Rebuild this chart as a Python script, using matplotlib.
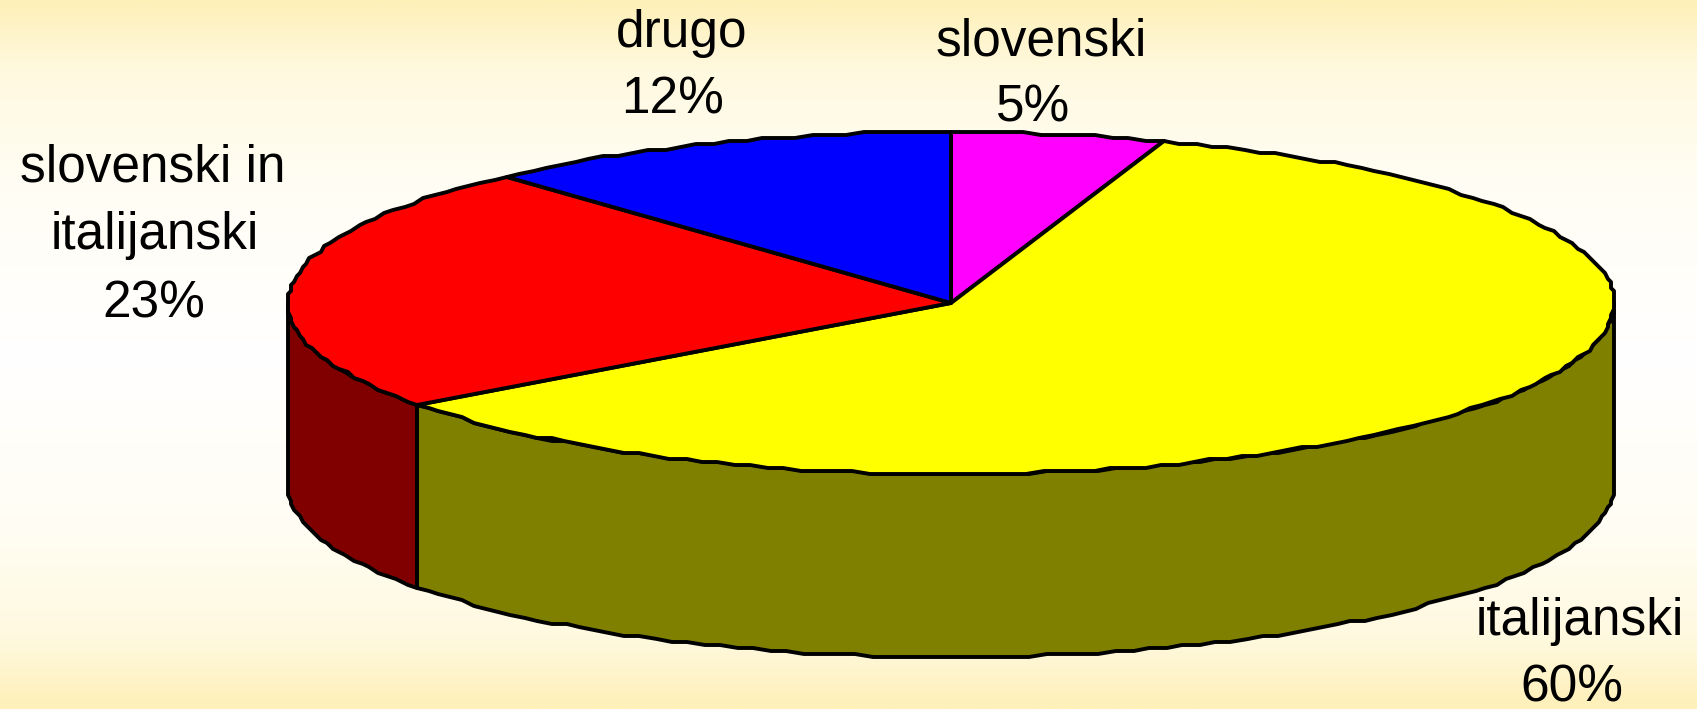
import numpy as np
import matplotlib
matplotlib.use("Agg")
import matplotlib.pyplot as plt
from matplotlib.patches import Polygon
from matplotlib.colors import LinearSegmentedColormap

# Data (clockwise from 12 o'clock)
categories = ["slovenski", "italijanski", "slovenski in\nitalijanski", "drugo"]
shares = [5.2, 59.7, 23.4, 11.7]
top_colors = ["#FF00FF", "#FFFF00", "#FF0000", "#0000FF"]
side_colors = ["#800080", "#808000", "#800000", "#000080"]
# (x centre, baseline y) of each label line, in pixels
name_px = [[(1041, 55)], [(1580, 635)], [(153, 181), (155, 249)], [(682, 47)]]
pct_px = [(1033, 122), (1572, 702), (154, 318), (673, 113)]

W, H = 1697, 709
CX, CY, RX, RY, DEPTH = 951, 303, 663, 171, 183
LW = 2.8
STEP = 3.0
FS = 37

plt.rcParams["font.family"] = ["Liberation Sans", "DejaVu Sans"]
fig = plt.figure(figsize=(W / 100, H / 100), dpi=100)
ax = fig.add_axes([0, 0, 1, 1])
ax.set_xlim(0, W)
ax.set_ylim(H, 0)
ax.axis("off")

cmap = LinearSegmentedColormap.from_list(
    "bg", [(0, "#FFFFFF"), (0.5, "#FFFDF3"), (0.8, "#FFF9E0"), (1, "#FEF0B8")])
grad = np.abs(np.linspace(-1, 1, 256))[:, None]
ax.imshow(grad, extent=(0, W, H, 0), aspect="auto", cmap=cmap, vmin=0, vmax=1, zorder=0)


def rim(a0, a1, dy=0.0):
    n = max(2, int(abs(a1 - a0) / 1.5) + 1)
    t = np.radians(np.linspace(a0, a1, n))
    x = CX + RX * np.sin(t)
    y = CY - RY * np.cos(t)
    x = np.round(x / STEP) * STEP
    y = np.round(y / STEP) * STEP
    return np.column_stack([x, y + dy])


edges = np.concatenate([[0], np.cumsum(shares)]) * 3.6

# walls on the front half
for i, (a0, a1) in enumerate(zip(edges[:-1], edges[1:])):
    lo, hi = max(a0, 90), min(a1, 270)
    if lo < hi:
        top = rim(lo, hi)
        bot = rim(lo, hi, DEPTH)
        ax.add_patch(Polygon(np.vstack([top, bot[::-1]]), closed=True, fc=side_colors[i],
                             ec="black", lw=LW, joinstyle="round", zorder=2))

# top faces
for i, (a0, a1) in enumerate(zip(edges[:-1], edges[1:])):
    pts = np.vstack([[[CX, CY]], rim(a0, a1)])
    ax.add_patch(Polygon(pts, closed=True, fc=top_colors[i], ec="black", lw=LW,
                         joinstyle="round", zorder=3))

for name, share, lines, (px, py) in zip(categories, shares, name_px, pct_px):
    for part, (x, y) in zip(name.split("\n"), lines):
        ax.text(x, y, part, ha="center", va="baseline", fontsize=FS, color="black", zorder=4)
    ax.text(px, py, f"{share:.0f}%", ha="center", va="baseline", fontsize=FS, color="black", zorder=4)

fig.savefig("out.png", dpi=100)
